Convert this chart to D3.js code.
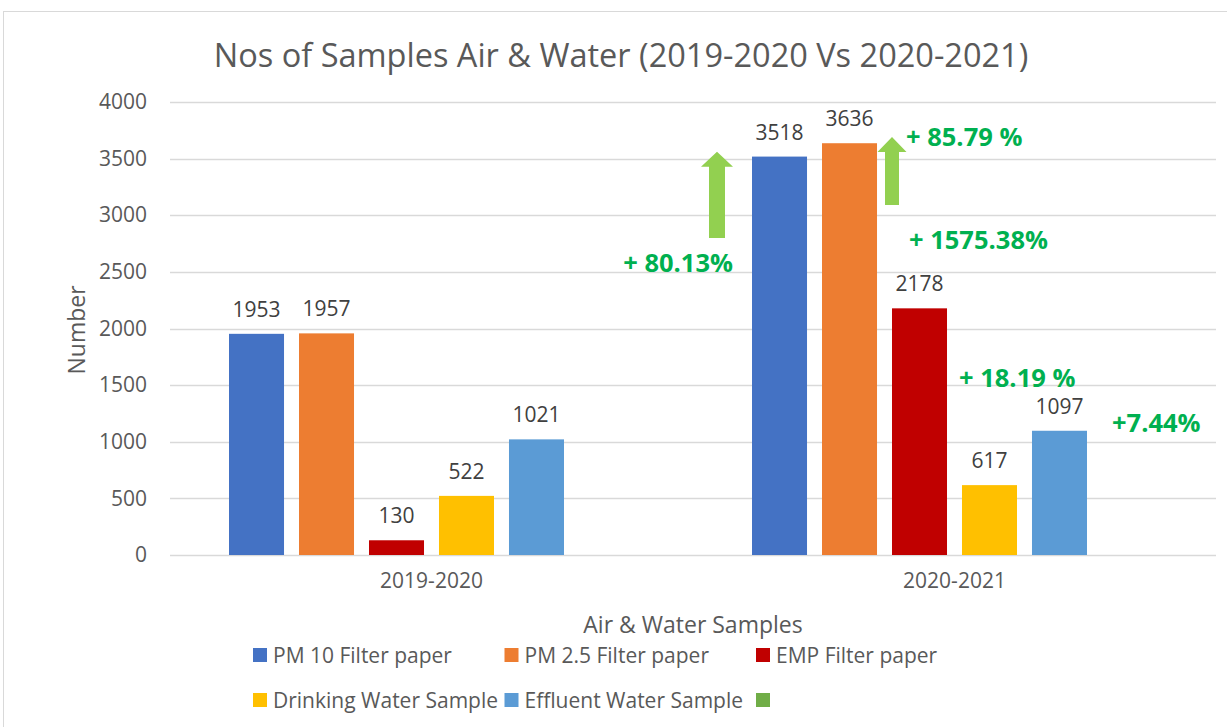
<!DOCTYPE html>
<html>
<head>
<meta charset="utf-8">
<script src="https://cdn.jsdelivr.net/npm/d3@7"></script>
<style>
  body { margin: 0; background: #fff; }
  svg { display: block; font-family: 'Open Sans', sans-serif; }
</style>
</head>
<body>
<svg id="chart" width="1227" height="727"></svg>
<script>
// data
const categories = ['2019-2020', '2020-2021'];
const seriesNames = ['PM 10 Filter paper', 'PM 2.5 Filter paper', 'EMP Filter paper',
                     'Drinking Water Sample', 'Effluent Water Sample', ''];
const seriesColors = ['#4472c4', '#ed7d31', '#c00000', '#ffc000', '#5b9bd5', '#70ad47'];
const pm10 = [1953, 3518];
const pm25 = [1957, 3636];
const emp = [130, 2178];
const drinking = [522, 617];
const effluent = [1021, 1097];
const blank = [null, null]; // green series has no bars, only a legend entry
const yTicks = [0, 500, 1000, 1500, 2000, 2500, 3000, 3500, 4000];

// growth notes, in data units on the y axis
const notes = [
  { text: '+ 80.13%', cat: '2020-2021', dx: 40, anchor: 'end', y: 2500 },
  { text: '+ 85.79 %', cat: '2020-2021', dx: 213, anchor: 'start', y: 3612 },
  { text: '+ 1575.38%', cat: '2020-2021', dx: 216, anchor: 'start', y: 2702 },
  { text: '+ 18.19 %', cat: '2020-2021', dx: 266, anchor: 'start', y: 1483 },
  { text: '+7.44%', cat: '2020-2021', dx: 419, anchor: 'start', y: 1086 }
];
const arrows = [
  { cat: '2020-2021', dx: 24, from: 2800, to: 3560, shaft: 16, head: 32 },
  { cat: '2020-2021', dx: 199, from: 3090, to: 3690, shaft: 14, head: 29 }
];

const allSeries = [pm10, pm25, emp, drinking, effluent, blank];

const svg = d3.select('#chart');
const margin = { top: 102, right: 11, bottom: 172, left: 170 };
const width = 1227 - margin.left - margin.right;
const height = 727 - margin.top - margin.bottom;

// chart border (Excel frame)
svg.append('rect')
  .attr('x', 3.5).attr('y', 11.5)
  .attr('width', 1240).attr('height', 740)
  .attr('fill', 'none').attr('stroke', '#d9d9d9');

const g = svg.append('g').attr('transform', `translate(${margin.left},${margin.top})`);

const x0 = d3.scaleBand().domain(categories).range([0, width]);
const x1 = d3.scaleBand().domain(d3.range(allSeries.length))
  .range([0, x0.bandwidth()]).paddingInner(0.214).paddingOuter(0.843);
const y = d3.scaleLinear().domain([0, 4000]).range([height, 0]);

// gridlines
g.selectAll('.grid').data(yTicks).join('line')
  .attr('x1', 0).attr('x2', width)
  .attr('y1', d => Math.round(y(d)) + 0.5).attr('y2', d => Math.round(y(d)) + 0.5)
  .attr('stroke', '#d9d9d9').attr('stroke-width', 1.3);

// y axis labels
const yAxis = g.append('g')
  .call(d3.axisLeft(y).tickValues(yTicks).tickFormat(d3.format('d')).tickSize(0).tickPadding(23));
yAxis.select('.domain').remove();
yAxis.selectAll('text')
  .attr('font-family', "'Open Sans', sans-serif")
  .style('font-size', '21px').style('fill', '#595959');

// x axis labels
const xAxis = g.append('g').attr('transform', `translate(0,${height})`)
  .call(d3.axisBottom(x0).tickSize(0).tickPadding(18));
xAxis.select('.domain').remove();
xAxis.selectAll('text')
  .attr('font-family', "'Open Sans', sans-serif")
  .style('font-size', '21px').style('fill', '#595959');

// bars + value labels
allSeries.forEach((vals, si) => {
  const rows = categories.map((c, ci) => ({ cat: c, value: vals[ci] })).filter(d => d.value != null);
  g.selectAll(`.bar-${si}`).data(rows).join('rect')
    .attr('x', d => x0(d.cat) + x1(si))
    .attr('y', d => y(d.value))
    .attr('width', x1.bandwidth())
    .attr('height', d => height - y(d.value))
    .attr('fill', seriesColors[si]);
  g.selectAll(`.lab-${si}`).data(rows).join('text')
    .attr('x', d => x0(d.cat) + x1(si) + x1.bandwidth() / 2)
    .attr('y', d => y(d.value) - 17)
    .attr('text-anchor', 'middle')
    .style('font-size', '21px').style('fill', '#404040')
    .text(d => d.value);
});

// arrows
arrows.forEach(a => {
  const cx = x0(a.cat) + a.dx;
  const yb = y(a.from), yt = y(a.to), hh = 15;
  const s = a.shaft / 2, h = a.head / 2;
  const path = `M${cx - s},${yb} L${cx - s},${yt + hh} L${cx - h},${yt + hh} L${cx},${yt}
    L${cx + h},${yt + hh} L${cx + s},${yt + hh} L${cx + s},${yb} Z`;
  g.append('path').attr('d', path).attr('fill', '#92d050');
});

// growth text
g.selectAll('.note').data(notes).join('text')
  .attr('x', d => x0(d.cat) + d.dx)
  .attr('y', d => y(d.y))
  .attr('text-anchor', d => d.anchor)
  .style('font-size', '25.5px').style('font-weight', 'bold').style('fill', '#00b050')
  .text(d => d.text);

// title
svg.append('text')
  .attr('x', 621).attr('y', 67)
  .attr('text-anchor', 'middle')
  .style('font-size', '32.5px').style('fill', '#595959')
  .text('Nos of Samples Air & Water (2019-2020 Vs 2020-2021)');

// axis titles
svg.append('text')
  .attr('x', 693).attr('y', 633)
  .attr('text-anchor', 'middle')
  .style('font-size', '23px').style('fill', '#595959')
  .text('Air & Water Samples');
svg.append('text')
  .attr('transform', 'translate(85,330) rotate(-90)')
  .attr('text-anchor', 'middle')
  .style('font-size', '23px').style('fill', '#595959')
  .text('Number');

// legend, 3 per row
const legend = svg.append('g');
seriesNames.forEach((name, i) => {
  const lx = 253 + (i % 3) * 251.5;
  const ly = 655 + Math.floor(i / 3) * 45;
  legend.append('rect').attr('x', lx).attr('y', ly - 7)
    .attr('width', 14).attr('height', 14).attr('fill', seriesColors[i]);
  legend.append('text').attr('x', lx + 20).attr('y', ly + 7.5)
    .style('font-size', '21px').style('fill', '#595959')
    .text(name);
});
</script>
</body>
</html>
